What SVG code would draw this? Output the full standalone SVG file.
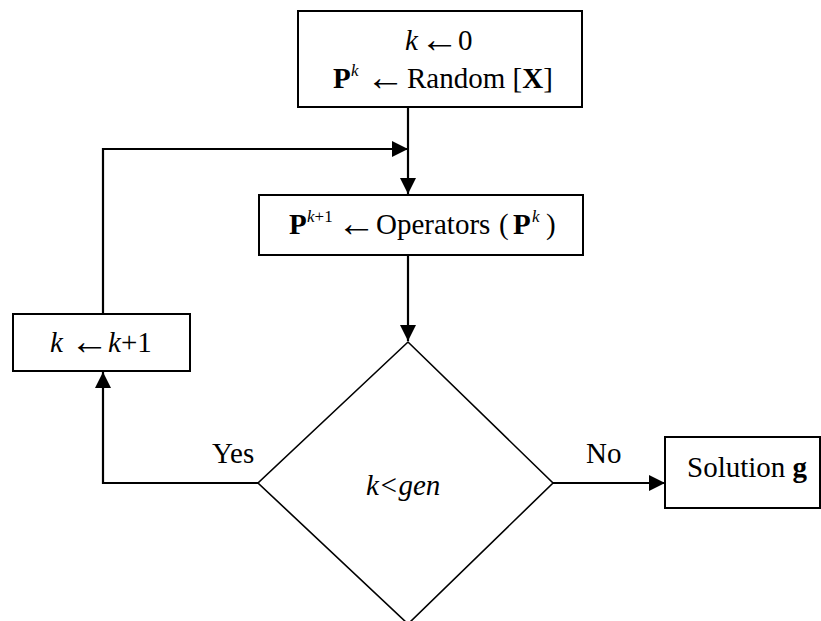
<svg xmlns="http://www.w3.org/2000/svg" width="821" height="621" viewBox="0 0 821 621">
<style>
.box{fill:#fff;stroke:#000;stroke-width:2}
.dia{fill:#fff;stroke:#000;stroke-width:1.6}
.ln{fill:none;stroke:#000;stroke-width:2.2}
text{font-family:"Liberation Serif","Times New Roman",serif;font-size:29px;fill:#000}
.i{font-style:italic}
.b{font-weight:bold}
.s{font-size:17px}
.a{font-size:39px}
</style>
<defs>
<marker id="ah" viewBox="0 0 16 16" refX="16" refY="8" markerWidth="16" markerHeight="16" markerUnits="userSpaceOnUse" orient="auto">
<path d="M0,0 L16,8 L0,16 Z" fill="#000"/>
</marker>
</defs>
<rect width="821" height="621" fill="#fff"/>
<g id="connectors">
<line class="ln" x1="408" y1="107" x2="408" y2="194" marker-end="url(#ah)"/>
<polyline class="ln" points="103,314 103,149 408,149" marker-end="url(#ah)"/>
<line class="ln" x1="408" y1="255" x2="408" y2="341" marker-end="url(#ah)"/>
<polyline class="ln" points="258,483 103,483 103,372" marker-end="url(#ah)"/>
<line class="ln" x1="553" y1="483" x2="665" y2="483" marker-end="url(#ah)"/>
</g>
<g id="init">
<rect class="box" x="298" y="11" width="284" height="96"/>
<text y="50"><tspan class="i" x="405">k</tspan><tspan class="a" x="420" y="52">←</tspan><tspan x="458" y="50">0</tspan></text>
<text y="88"><tspan class="b" x="333">P</tspan><tspan class="i s" x="351" y="76">k</tspan><tspan class="a" x="366" y="90">←</tspan><tspan x="407" y="88">Random [</tspan><tspan class="b">X</tspan><tspan>]</tspan></text>
</g>
<g id="operators">
<rect class="box" x="259" y="195" width="324" height="60"/>
<text y="234"><tspan class="b" x="289">P</tspan><tspan class="i s" x="307" y="222">k</tspan><tspan class="s" y="222">+1</tspan><tspan class="a" x="337" y="236">←</tspan><tspan x="376" y="234">Operators</tspan><tspan x="499">(</tspan><tspan class="b" x="513">P</tspan><tspan class="i s" x="532" y="222">k</tspan><tspan x="546" y="234">)</tspan></text>
</g>
<g id="increment">
<rect class="box" x="13" y="314" width="177" height="57"/>
<text y="352"><tspan class="i" x="50">k</tspan><tspan class="a" x="70" y="354">←</tspan><tspan class="i" x="108" y="352">k</tspan><tspan>+1</tspan></text>
</g>
<g id="decision">
<polygon class="dia" points="408,342 553,483 408,624 258,483"/>
<text class="i" x="366" y="495">k&lt;gen</text>
</g>
<g id="solution">
<rect class="box" x="665" y="437" width="155" height="71"/>
<text y="477"><tspan x="687">Solution </tspan><tspan class="b">g</tspan></text>
</g>
<g id="labels">
<text x="212" y="463">Yes</text>
<text x="586" y="463">No</text>
</g>
</svg>
